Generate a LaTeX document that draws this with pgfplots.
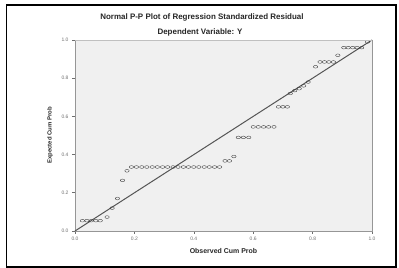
\documentclass[border=0pt]{standalone}
\usepackage{pgfplots}
\pgfplotsset{compat=1.18}
\usepackage{fontspec}
\setmainfont{Liberation Sans}
\definecolor{bgc}{RGB}{240,240,240}
\definecolor{axc}{RGB}{150,150,150}
\definecolor{tickc}{RGB}{110,110,110}
\begin{document}
\begin{tikzpicture}
\path[use as bounding box] (0bp,0bp) rectangle (399bp,268bp);
\draw[black,line width=1.6bp] (6.5bp,1bp) rectangle (396bp,263bp);
\begin{axis}[
  at={(75bp,37bp)}, anchor=south west,
  scale only axis, width=297bp, height=191bp,
  xmin=0, xmax=1, ymin=0, ymax=1,
  axis background/.style={fill=bgc},
  axis line style={axc, line width=0.9bp},
  xtick={0,0.2,0.4,0.6,0.8,1.0}, ytick={0,0.2,0.4,0.6,0.8,1.0},
  xticklabel style={font=\fontsize{5}{6}\selectfont, text=tickc},
  yticklabel style={font=\fontsize{5}{6}\selectfont, text=tickc},
  xticklabels={0.0,0.2,0.4,0.6,0.8,1.0},
  yticklabels={0.0,0.2,0.4,0.6,0.8,1.0},
  tick style={tickc, line width=0.6bp},
  tick align=outside, major tick length=3bp,
  xtick pos=bottom, ytick pos=left,
  clip=false,
]
\addplot[color={rgb,255:red,85;green,85;blue,85}, line width=1bp] coordinates {(0,0) (1,1)};
\addplot[only marks, mark=o, mark size=1.7bp, mark options={black!80, line width=0.35bp, xscale=1.3, yscale=0.8}] coordinates {
(0.025,0.054) (0.040,0.054) (0.055,0.054) (0.070,0.054) (0.085,0.054)
(0.108,0.073) (0.125,0.120) (0.143,0.170) (0.160,0.265) (0.175,0.315)
(0.190,0.335) (0.207,0.335) (0.225,0.335) (0.242,0.335) (0.260,0.335) (0.277,0.335)
(0.295,0.335) (0.312,0.335) (0.330,0.335) (0.347,0.335) (0.365,0.335) (0.382,0.335)
(0.400,0.335) (0.417,0.335) (0.435,0.335) (0.452,0.335) (0.470,0.335) (0.487,0.335)
(0.505,0.367) (0.520,0.367) (0.535,0.390)
(0.550,0.490) (0.567,0.490) (0.585,0.490)
(0.600,0.545) (0.617,0.545) (0.635,0.545) (0.652,0.545) (0.670,0.545)
(0.685,0.650) (0.700,0.650) (0.715,0.650)
(0.725,0.720) (0.740,0.735) (0.755,0.745) (0.770,0.760) (0.785,0.780)
(0.810,0.860)
(0.825,0.885) (0.840,0.885) (0.855,0.885) (0.870,0.885)
(0.885,0.920)
(0.905,0.960) (0.920,0.960) (0.935,0.960) (0.950,0.960) (0.965,0.960)
(0.985,0.990)
};
\end{axis}
\draw[axc, line width=0.9bp] (372bp,37bp) -- (372bp,228bp);
\draw[axc!60, line width=0.6bp] (75bp,228bp) -- (372bp,228bp);
\node[font=\fontsize{8}{9}\selectfont\bfseries, text=black!85] at (202bp,251bp) {Normal P-P Plot of Regression Standardized Residual};
\node[font=\fontsize{8}{9}\selectfont\bfseries, text=black!85] at (200bp,236bp) {Dependent Variable: Y};
\node[font=\fontsize{7}{8}\selectfont\bfseries, text=black!85] at (223.5bp,17bp) {Observed Cum Prob};
\node[font=\fontsize{6}{7}\selectfont\bfseries, text=black!85, rotate=90] at (50bp,132.5bp) {Expected Cum Prob};
\end{tikzpicture}
\end{document}
